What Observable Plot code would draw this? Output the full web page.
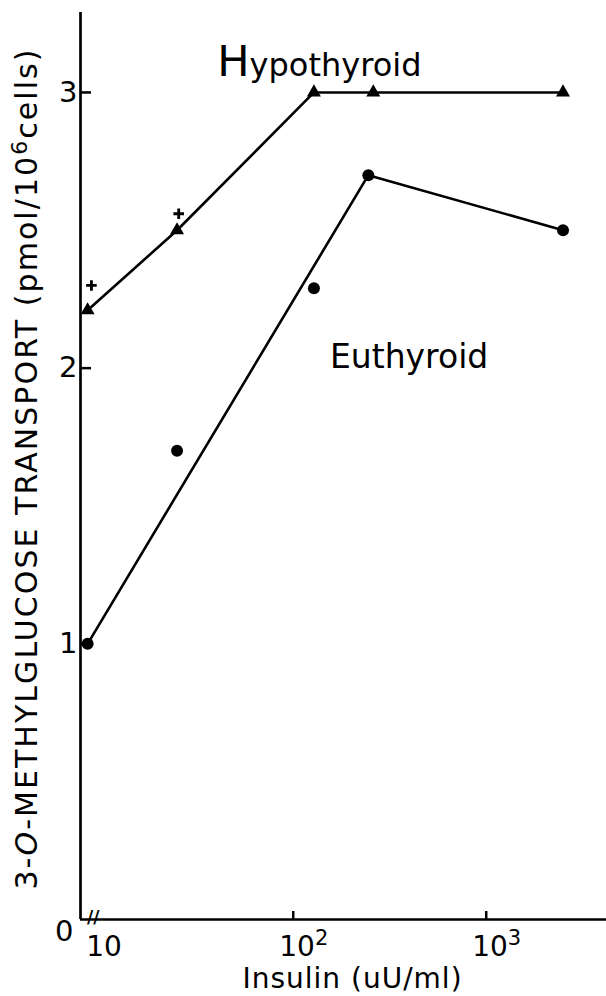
<!DOCTYPE html>
<html><head><meta charset="utf-8">
<script src="https://cdn.jsdelivr.net/npm/d3@7"></script>
<script src="https://cdn.jsdelivr.net/npm/@observablehq/plot@0.6"></script>
<style>body{margin:0;background:#fff} svg{display:block}</style>
</head><body><div id="chart"></div>
<script>
// Insulin doses (uU/ml); the basal point sits just right of the axis break
const hypoDose = [8.6, 25, 128, 260, 2500];
const hypoValue = [2.21, 2.50, 3.0, 3.0, 3.0];
const euthDose = [8.6, 25, 128, 245, 2500];
const euthValue = [1.0, 1.70, 2.29, 2.70, 2.50];
const euthOnLine = [true, false, false, true, true];
const plusDose = [9.0, 25.5];
const plusValue = [2.30, 2.56];
const yTicks = [1, 2, 3];
const xTicks = [100, 1000];
const xTickLabels = [{v: 10, base: "10", exp: ""}, {v: 100, base: "10", exp: "2"}, {v: 1000, base: "10", exp: "3"}];

const xMin = 7.9, xMax = 4200, yMax = 3.29;
const font = "DejaVu Sans, sans-serif";

const hypo = hypoDose.map((d, i) => ({x: d, y: hypoValue[i]}));
const euth = euthDose.map((d, i) => ({x: d, y: euthValue[i], on: euthOnLine[i]}));
const plus = plusDose.map((d, i) => ({x: d, y: plusValue[i]}));

const plot = Plot.plot({
  width: 606, height: 996,
  marginLeft: 80, marginRight: 0, marginTop: 12, marginBottom: 77,
  style: {fontFamily: font, background: "#fff", color: "#000"},
  x: {type: "log", domain: [xMin, xMax], label: null},
  y: {domain: [0, yMax], label: null},
  marks: [
    Plot.ruleX([xMin], {y1: 0, y2: yMax, strokeWidth: 2.7}),
    Plot.ruleY([0], {x1: xMin, x2: xMax, strokeWidth: 2.7}),
    Plot.axisY({ticks: yTicks, tickSize: -11, tickFormat: () => "", strokeWidth: 2.5, label: null}),
    Plot.axisX({ticks: xTicks, tickSize: -8, tickFormat: () => "", strokeWidth: 2.5, label: null}),
    Plot.text(yTicks, {x: xMin, y: d => d, text: d => String(d), dx: -3, textAnchor: "end", fontSize: 29}),
    Plot.text([0], {x: xMin, y: 0, text: d => String(d), dx: -7, dy: 12, textAnchor: "end", fontSize: 29}),
    Plot.text(xTickLabels, {x: "v", y: 0, text: d => d.base + "|" + d.exp, dx: -14, dy: 28, textAnchor: "start", fontSize: 28, className: "xtl"}),
    Plot.text(["//"], {x: 9.2, y: 0, text: d => d, fontSize: 17, fontWeight: "bold", dy: -2}),
    Plot.line(hypo, {x: "x", y: "y", strokeWidth: 2.6}),
    Plot.line(euth.filter(d => d.on), {x: "x", y: "y", strokeWidth: 2.6}),
    Plot.dot(hypo, {x: "x", y: "y", symbol: "triangle", r: 5.2, fill: "#000"}),
    Plot.dot(euth, {x: "x", y: "y", symbol: "circle", r: 6, fill: "#000"}),
    Plot.dot(plus, {x: "x", y: "y", symbol: "plus", r: 3.5, stroke: "#000", strokeWidth: 2.8, fill: "none"}),
    Plot.text(["Hypothyroid"], {x: 40.4, y: 3.061, text: d => d, textAnchor: "start", lineAnchor: "bottom", fontSize: 32, className: "hypolab"}),
    Plot.text(["Euthyroid"], {x: 155, y: 2.0, text: d => d, textAnchor: "start", lineAnchor: "bottom", fontSize: 33}),
    Plot.text(["Insulin (uU/ml)"], {frameAnchor: "bottom", text: d => d, dx: 9, dy: 68, fontSize: 28, className: "xlab"}),
    Plot.text(["Y"], {frameAnchor: "bottom-left", text: d => "ylabel", rotate: -90, textAnchor: "start", dx: -44, dy: -30, fontSize: 30, className: "ylab"})
  ]
});
document.getElementById("chart").appendChild(plot);

// rich text: superscripts and italics
plot.querySelectorAll(".xtl text").forEach(t => {
  const [b, e] = t.textContent.split("|");
  t.innerHTML = e ? `${b}<tspan dy="-11" font-size="21">${e}</tspan>` : b;
});
plot.querySelector(".xlab text").setAttribute("letter-spacing", "1");
const h = plot.querySelector(".hypolab text");
h.innerHTML = `<tspan font-size="43">H</tspan>ypothyroid`;
const y = plot.querySelector(".ylab text");
y.innerHTML = `3-<tspan font-style="italic">O</tspan>-METHYLGLUCOSE TRANSPORT (pmol/10<tspan dy="-10" font-size="22">6</tspan><tspan dy="10">cells)</tspan>`;
y.setAttribute("textLength", "840");
y.setAttribute("lengthAdjust", "spacing");
</script>
</body></html>
